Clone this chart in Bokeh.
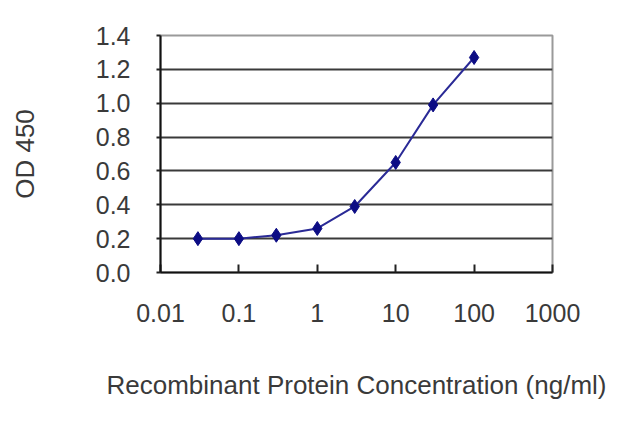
from bokeh.plotting import figure
from bokeh.embed import file_html
from bokeh.resources import INLINE
from bokeh.models import ColumnDataSource, FixedTicker, NumeralTickFormatter, CustomJSTickFormatter, Range1d

# datos
concentracion = [0.03, 0.1, 0.3, 1, 3, 10, 30, 100]
od450 = [0.20, 0.20, 0.22, 0.26, 0.39, 0.65, 0.99, 1.27]

x_ticks = [0.01, 0.1, 1, 10, 100, 1000]
x_tick_labels = ["0.01", "0.1", "1", "10", "100", "1000"]
y_ticks = [0.0, 0.2, 0.4, 0.6, 0.8, 1.0, 1.2, 1.4]
y_grid = [0.2, 0.4, 0.6, 0.8, 1.0, 1.2]

source = ColumnDataSource(data=dict(x=concentracion, y=od450))

p = figure(x_axis_type="log",
           x_range=Range1d(0.01, 1000), y_range=Range1d(0, 1.4),
           frame_width=392, frame_height=237,
           min_border_left=160, min_border_right=72,
           min_border_top=35, min_border_bottom=135,
           output_backend="svg", toolbar_location=None,
           x_axis_label="Recombinant Protein Concentration (ng/ml)",
           y_axis_label="OD 450")

p.background_fill_color = "white"
p.border_fill_color = "white"
p.outline_line_color = "#9a9a9a"
p.outline_line_width = 2

# linea y marcadores
p.line(x="x", y="y", source=source, line_color="#2a2a96", line_width=2)
p.scatter(x="x", y="y", source=source, marker="diamond", size=14,
          fill_color="#0c0c84", line_color="#0c0c84")

# rejilla
p.xgrid.visible = False
p.ygrid.ticker = FixedTicker(ticks=y_grid)
p.ygrid.grid_line_color = "#3a3a3a"
p.ygrid.grid_line_width = 2

# eje x
p.xaxis.ticker = FixedTicker(ticks=x_ticks, minor_ticks=[])
p.xaxis.formatter = CustomJSTickFormatter(args=dict(xt=x_ticks, xl=x_tick_labels), code="""
    const i = xt.findIndex(t => Math.abs(Math.log10(t) - Math.log10(tick)) < 1e-6);
    return i >= 0 ? xl[i] : '';
""")
p.xaxis.major_tick_in = 8
p.xaxis.major_tick_out = 0
p.xaxis.minor_tick_line_color = None
p.xaxis.major_label_standoff = 31
p.xaxis.axis_label_standoff = 45

# eje y
p.yaxis.ticker = FixedTicker(ticks=y_ticks, minor_ticks=[])
p.yaxis.formatter = NumeralTickFormatter(format="0.0")
p.yaxis.major_tick_in = 0
p.yaxis.major_tick_out = 4
p.yaxis.major_label_standoff = 26
p.yaxis.axis_label_standoff = 53

for ax in [p.xaxis, p.yaxis]:
    ax.axis_line_color = "#111111"
    ax.axis_line_width = 2
    ax.major_tick_line_color = "#222222"
    ax.major_tick_line_width = 2
    ax.major_label_text_font = "Liberation Sans"
    ax.major_label_text_font_size = "25px"
    ax.major_label_text_color = "#3a3a3a"
    ax.axis_label_text_font = "Liberation Sans"
    ax.axis_label_text_font_size = "26px"
    ax.axis_label_text_font_style = "normal"
    ax.axis_label_text_color = "#3a3a3a"

open("out.html", "w").write(file_html(p, INLINE))
